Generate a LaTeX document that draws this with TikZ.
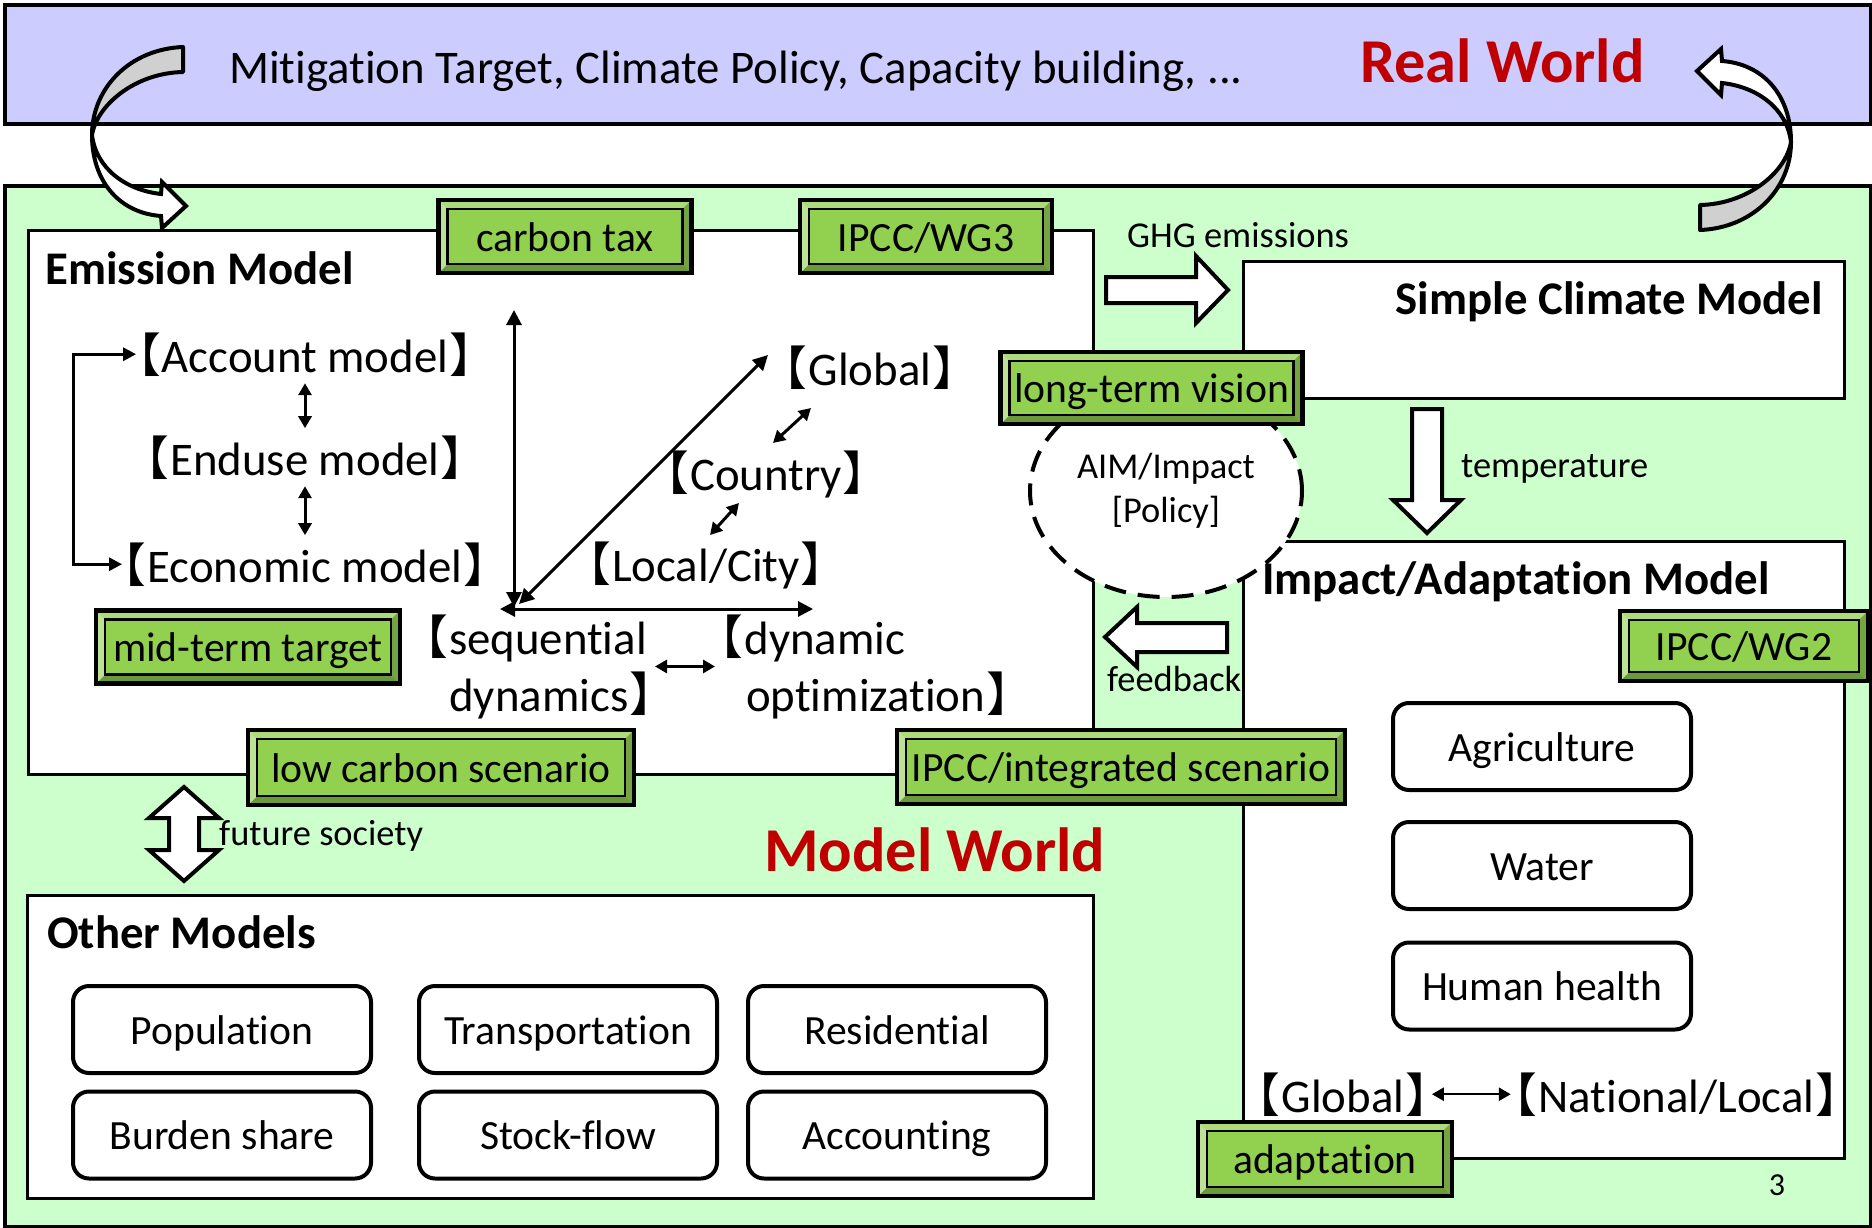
\documentclass[tikz,border=0pt]{standalone}
\usepackage{fontspec}
\setmainfont{Carlito}[Ligatures=NoCommon]
\newfontfamily\cjk[RawFeature=+palt]{Noto Sans CJK JP}
\usetikzlibrary{arrows.meta,calc,shapes.geometric}
\newcommand{\lb}{{\cjk 【}\kern2pt}
\newcommand{\rb}{\kern2pt{\cjk 】}}
\definecolor{bandc}{HTML}{CCCCFF}
\definecolor{panelc}{HTML}{CCFFCC}
\definecolor{wred}{HTML}{C00000}
\definecolor{tagface}{HTML}{92D050}
\definecolor{tagtop}{HTML}{ADDA7B}
\definecolor{tagleft}{HTML}{BDE296}
\definecolor{tagbot}{HTML}{6B9A3A}
\definecolor{tagright}{HTML}{75A542}
\definecolor{cgray}{HTML}{D0D0D0}
\newcommand{\fsL}{\fontsize{46.8}{53}\selectfont}
\newcommand{\fsM}{\fontsize{41.6}{48}\selectfont}
\newcommand{\fsS}{\fontsize{36.4}{44}\selectfont}
\newcommand{\fsXL}{\fontsize{62.4}{70}\selectfont}
\tikzset{
  bigbox/.style={draw=black, line width=4pt, inner sep=0pt, anchor=north west},
  modelbox/.style={draw=black, line width=3pt, fill=white, inner sep=0pt, anchor=north west},
  rbox/.style={draw=black, line width=4pt, fill=white, rounded corners=16pt, inner sep=0pt, minimum width=298pt, minimum height=87pt, font=\fsM, text height=29pt, text depth=0pt},
  title/.style={font=\fsL\bfseries, inner sep=0pt},
  lbl/.style={font=\fsL, inner sep=0pt},
  slbl/.style={font=\fsS, inner sep=0pt},
  blockarrow/.style={draw=black, line width=4pt, fill=white, line join=miter},
  axis/.style={line width=3pt, {Triangle[length=15pt,width=15pt]}-{Triangle[length=15pt,width=15pt]}},
  sdbl/.style={line width=3pt, {Triangle[length=12pt,width=13pt]}-{Triangle[length=12pt,width=13pt]}},
  tag/.style={draw=black, line width=4.5pt, fill=tagface, inner sep=0pt, font=\fsM, text height=29pt, text depth=0pt,
    path picture={
      \coordinate (bsw) at (path picture bounding box.south west);
      \coordinate (bne) at (path picture bounding box.north east);
      \coordinate (bnw) at (bsw |- bne);
      \coordinate (bse) at (bne |- bsw);
      \fill[tagtop] (bnw) -- (bne) -- ([shift={(-9pt,-9pt)}]bne) -- ([shift={(9pt,-9pt)}]bnw) -- cycle;
      \fill[tagbot] (bsw) -- (bse) -- ([shift={(-9pt,9pt)}]bse) -- ([shift={(9pt,9pt)}]bsw) -- cycle;
      \fill[tagleft] (bsw) -- (bnw) -- ([shift={(9pt,-9pt)}]bnw) -- ([shift={(9pt,9pt)}]bsw) -- cycle;
      \fill[tagright] (bse) -- (bne) -- ([shift={(-9pt,-9pt)}]bne) -- ([shift={(-9pt,9pt)}]bse) -- cycle;
      \draw[line width=2.5pt] ([shift={(9pt,9pt)}]bsw) rectangle ([shift={(-9pt,-9pt)}]bne);
    }},
}
\newcommand{\curvedarr}{%
  \filldraw[fill=cgray, draw=black, line width=4pt, line join=round]
    (183,47) .. controls (130,49) and (92,88) .. (92,135)
    .. controls (97,105) and (135,73) .. (183,72) -- cycle;
  \filldraw[fill=white, draw=black, line width=4pt, line join=miter]
    (92,135) .. controls (92,182) and (120,213) .. (161,216)
    -- (162,228) -- (186,206) -- (162,182) -- (161,194)
    .. controls (125,190) and (96,168) .. (92,135) -- cycle;
}
\begin{document}
\begin{tikzpicture}[x=1pt,y=-1pt]
\useasboundingbox (0,0) rectangle (1872,1228);
\fill[white] (0,0) rectangle (1872,1228);
% Real world band
\node[bigbox, fill=bandc, minimum width=1866pt, minimum height=119pt] (band) at (3,3) {};
\node[lbl, anchor=base west] (mit) at (229,84) {Mitigation Target, Climate Policy, Capacity building, ...};
\node[font=\fsXL\bfseries, text=wred, inner sep=0pt, anchor=base west] (rwt) at (1360,83) {Real World};
% Model world panel
\node[bigbox, fill=panelc, minimum width=1866pt, minimum height=1041pt] (panel) at (3,184) {};
% model boxes
\node[modelbox, minimum width=1065pt, minimum height=544pt] (emis) at (27,229) {};
\node[modelbox, minimum width=601pt, minimum height=137pt] (scm) at (1242,260) {};
\node[modelbox, minimum width=601pt, minimum height=617pt] (iam) at (1242,540) {};
\node[modelbox, minimum width=1066pt, minimum height=303pt] (oth) at (26,894) {};
\node[title, anchor=base west] (emt) at (45,284) {Emission Model};
\node[title, anchor=base east] (scmt) at (1823,314) {Simple Climate Model};
\node[title, anchor=base west] (otht) at (47,948) {Other Models};
% emission model contents
\node[lbl, anchor=base] (acc) at (305,372) {\lb Account model\rb};
\node[lbl, anchor=base] (endu) at (305,475) {\lb Enduse model\rb};
\node[lbl, anchor=base] (eco) at (305,582) {\lb Economic model\rb};
\draw[sdbl, shorten <=7pt, shorten >=7pt] (acc.south) -- (endu.north);
\draw[sdbl, shorten <=7pt, shorten >=7pt] (endu.south) -- (eco.north);
\draw[line width=3pt, {Triangle[length=13pt,width=13pt]}-{Triangle[length=13pt,width=13pt]}] (acc.west) -| (73,460) |- (eco.west);
\coordinate (O) at (514,609);
\coordinate (vtop) at (514,310);
\coordinate (hend) at (813,609);
\coordinate (dend) at (768,355);
\draw[axis] ([yshift=2pt]O) -- (vtop);
\draw[axis] ([xshift=-14pt]O) -- (hend);
\draw[axis] ([shift={(5pt,5pt)}]O) -- (dend);
\node[lbl, anchor=base] (glob) at (870,385) {\lb Global\rb};
\node[lbl, anchor=base] (ctry) at (766,490) {\lb Country\rb};
\node[lbl, anchor=base] (loc) at (706,581) {\lb Local/City\rb};
\draw[sdbl] ([shift={(-59pt,-23pt)}]glob.base) -- ([shift={(7pt,47pt)}]ctry.base);
\draw[sdbl] ([shift={(-27pt,-13pt)}]ctry.base) -- ([shift={(4pt,46pt)}]loc.base);
\node[lbl, align=right, anchor=base east] (seq) at (647,711) {\lb sequential\\[4pt]dynamics\rb\kern-7pt};
\node[lbl, align=left, anchor=base west] (dyn) at (719,711) {\lb dynamic\\[4pt]\hspace*{27pt}optimization\rb};
\draw[sdbl] ([xshift=8pt]seq.east) -- ([xshift=-4pt]dyn.west);
% block arrows
\path[blockarrow] (1106,277) -- (1196,277) -- (1196,256) -- (1228,290) -- (1196,323) -- (1196,303) -- (1106,303) -- cycle;
\node[slbl, anchor=base west] (ghg) at (1127,247) {GHG emissions};
\path[blockarrow] (1412,409) -- (1442,409) -- (1442,500) -- (1461,500) -- (1427,533) -- (1393,500) -- (1412,500) -- cycle;
\node[slbl, anchor=base west] (temp) at (1461,477) {temperature};
\path[blockarrow] (1227,623) -- (1137,623) -- (1137,607) -- (1105,637) -- (1137,667) -- (1137,652) -- (1227,652) -- cycle;
\node[slbl, anchor=base west] (fb) at (1107,691) {feedback};
\path[blockarrow] (184,787) -- (219,818) -- (199,818) -- (199,850) -- (219,850) -- (184,881) -- (149,850) -- (169,850) -- (169,818) -- (149,818) -- cycle;
\node[slbl, anchor=base west] (fs) at (219,845) {future society};
% AIM ellipse
\node[ellipse, draw=black, line width=4pt, dash pattern=on 22pt off 12pt, fill=white, minimum width=272pt, minimum height=212pt, inner sep=0pt, align=center, font=\fsS] (aim) at (1166,491) {AIM/Impact\\{[Policy]}};
\node[title, anchor=base west] (iamt) at (1262,594) {Impact/Adaptation Model};
% rounded boxes
\node[rbox] (pop) at (222,1029.5) {Population};
\node[rbox] (trn) at (568,1029.5) {Transportation};
\node[rbox] (res) at (897,1029.5) {Residential};
\node[rbox] (bur) at (222,1135) {Burden share};
\node[rbox] (stk) at (568,1135) {Stock-flow};
\node[rbox] (acct) at (897,1135) {Accounting};
\node[rbox] (agr) at (1542,746.5) {Agriculture};
\node[rbox] (wat) at (1542,865.5) {Water};
\node[rbox] (hh) at (1542,986) {Human health};
\node[lbl, anchor=base west] (gl2) at (1256,1112) {\lb Global\rb};
\node[lbl, anchor=base east] (nat) at (1840,1112) {\lb National/Local\rb};
\draw[sdbl, line width=2.5pt, shorten <=2pt, shorten >=2pt] (gl2.east) -- (nat.west);
% tags
\node[tag, minimum width=253pt, minimum height=73pt] (ctax) at (565,236.5) {carbon tax};
\node[tag, minimum width=252pt, minimum height=73pt] (wg3) at (926,236.5) {IPCC/WG3};
\node[tag, minimum width=302pt, minimum height=72pt] (ltv) at (1151.5,388) {long-term vision};
\node[tag, minimum width=304pt, minimum height=73pt] (mtt) at (248,647) {mid-term target};
\node[tag, minimum width=386pt, minimum height=75pt] (lcs) at (441,767.5) {low carbon scenario};
\node[tag, minimum width=448pt, minimum height=74pt] (ipis) at (1121,767) {IPCC/integrated scenario};
\node[tag, minimum width=248pt, minimum height=70pt] (wg2) at (1744,646) {IPCC/WG2};
\node[tag, minimum width=254pt, minimum height=74pt] (adapt) at (1325,1159) {adaptation};
% curved arrows
\curvedarr
\begin{scope}[shift={(1883,277)}, rotate=180]
\curvedarr
\end{scope}
\node[font=\fsXL\bfseries, text=wred, inner sep=0pt, anchor=base west] (mwt) at (764,871) {Model World};
\node[font=\fontsize{32}{38}\selectfont, inner sep=0pt, anchor=base] (pg) at (1777,1195) {3};
\end{tikzpicture}
\end{document}
